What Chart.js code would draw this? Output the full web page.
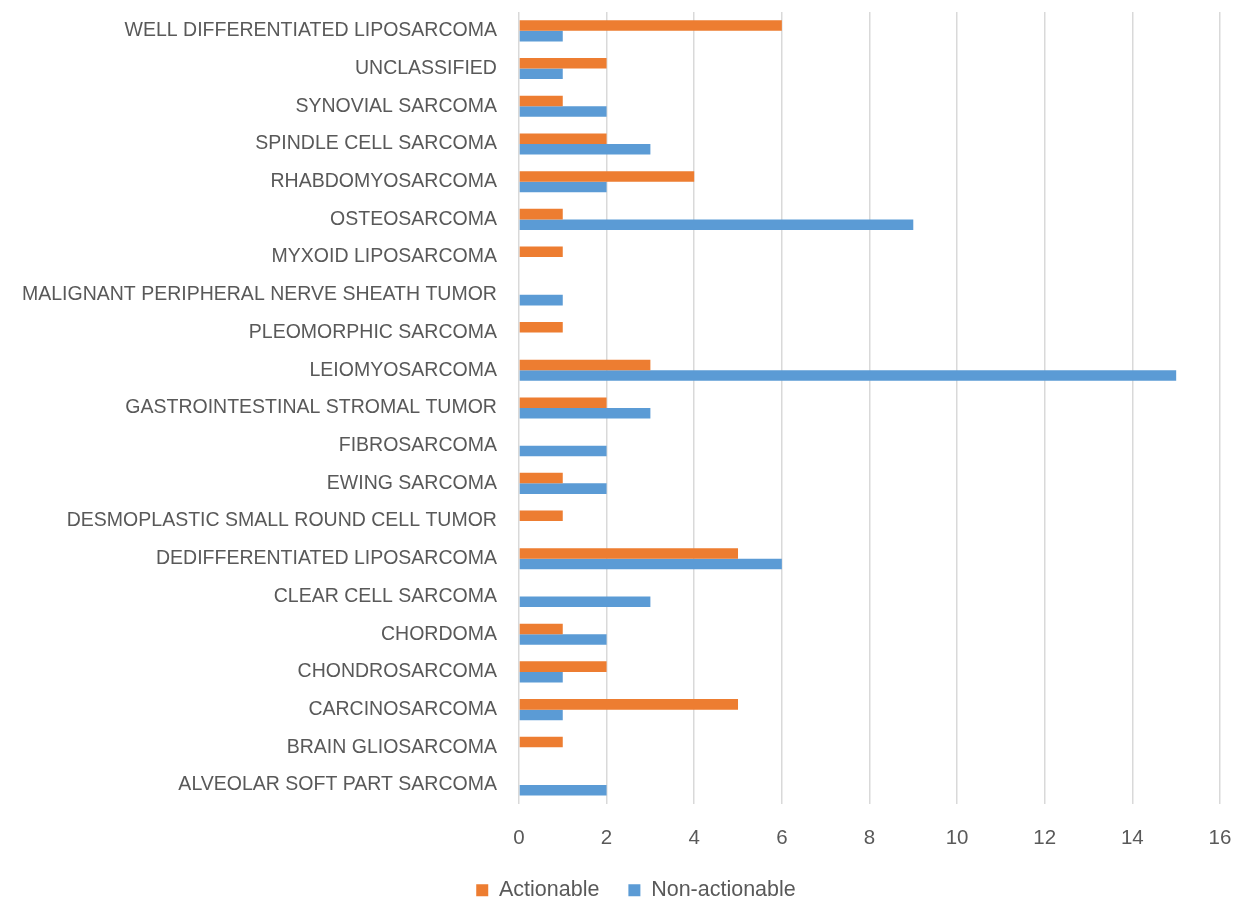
<!DOCTYPE html>
<html>
<head>
<meta charset="utf-8">
<script src="https://cdn.jsdelivr.net/npm/chart.js@4/dist/chart.umd.min.js"></script>
<style>
  html, body { margin: 0; padding: 0; background: #fff; }
  #wrap { width: 1241px; height: 898px; }
</style>
</head>
<body>
<div id="wrap"><canvas id="barChart" width="1241" height="898"></canvas></div>
<script>
// categories, listed top to bottom as in the picture
const categories = [
    "WELL DIFFERENTIATED LIPOSARCOMA",
    "UNCLASSIFIED",
    "SYNOVIAL SARCOMA",
    "SPINDLE CELL SARCOMA",
    "RHABDOMYOSARCOMA",
    "OSTEOSARCOMA",
    "MYXOID LIPOSARCOMA",
    "MALIGNANT PERIPHERAL NERVE SHEATH TUMOR",
    "PLEOMORPHIC SARCOMA",
    "LEIOMYOSARCOMA",
    "GASTROINTESTINAL STROMAL TUMOR",
    "FIBROSARCOMA",
    "EWING SARCOMA",
    "DESMOPLASTIC SMALL ROUND CELL TUMOR",
    "DEDIFFERENTIATED LIPOSARCOMA",
    "CLEAR CELL SARCOMA",
    "CHORDOMA",
    "CHONDROSARCOMA",
    "CARCINOSARCOMA",
    "BRAIN GLIOSARCOMA",
    "ALVEOLAR SOFT PART SARCOMA"
];
const actionable    = [6, 2, 1, 2, 4, 1, 1, 0, 1, 3, 2, 0, 1, 1, 5, 0, 1, 2, 5, 1, 0];
const nonActionable = [1, 1, 2, 3, 2, 9, 0, 1, 0, 15, 3, 2, 2, 0, 6, 3, 2, 1, 1, 0, 2];
const xTicks = [0, 2, 4, 6, 8, 10, 12, 14, 16];

const textColor = "#595959";
const fontFamily = "'Liberation Sans', Arial, sans-serif";

// legend in the picture sits a bit right of the page centre
const legendShift = {
    id: "legendShift",
    afterLayout(chart) {
        if (chart.legend) {
            chart.legend.left += 26;
            chart.legend.right += 26;
        }
    }
};

let ctx = document.getElementById("barChart").getContext("2d");
new Chart(ctx, {
    type: "bar",
    data: {
        labels: categories,
        datasets: [{
            label: "Actionable",
            data: actionable,
            backgroundColor: "#ED7D31",
            categoryPercentage: 0.56,
            barPercentage: 1.0
        }, {
            label: "Non-actionable",
            data: nonActionable,
            backgroundColor: "#5B9BD5",
            categoryPercentage: 0.56,
            barPercentage: 1.0
        }]
    },
    options: {
        indexAxis: "y",
        responsive: false,
        animation: false,
        layout: { padding: { top: 0, right: 21, left: 0, bottom: -13 } },
        scales: {
            x: {
                min: 0,
                max: 16,
                afterBuildTicks: function (scale) {
                    scale.ticks = xTicks.map(v => ({ value: v }));
                },
                grid: { color: "#d9d9d9", lineWidth: 1.5, drawTicks: false },
                border: { display: false },
                ticks: { color: textColor, padding: 22, font: { family: fontFamily, size: 20.5 } },
                afterFit: function (scale) {
                    scale.paddingLeft = 0;
                    scale.paddingRight = 0;
                    scale.height -= 22;
                }
            },
            y: {
                grid: { display: false, drawTicks: false },
                border: { display: false },
                ticks: { color: textColor, padding: 22, autoSkip: false, font: { family: fontFamily, size: 19.5 } },
                afterFit: function (scale) {
                    scale.paddingTop = 12;
                    scale.paddingBottom = 0;
                }
            }
        },
        plugins: {
            legend: {
                position: "bottom",
                labels: {
                    color: textColor,
                    boxWidth: 12,
                    boxHeight: 12,
                    padding: 29,
                    font: { family: fontFamily, size: 21.5 }
                }
            },
            tooltip: { enabled: false }
        }
    },
    plugins: [legendShift]
});
</script>
</body>
</html>
